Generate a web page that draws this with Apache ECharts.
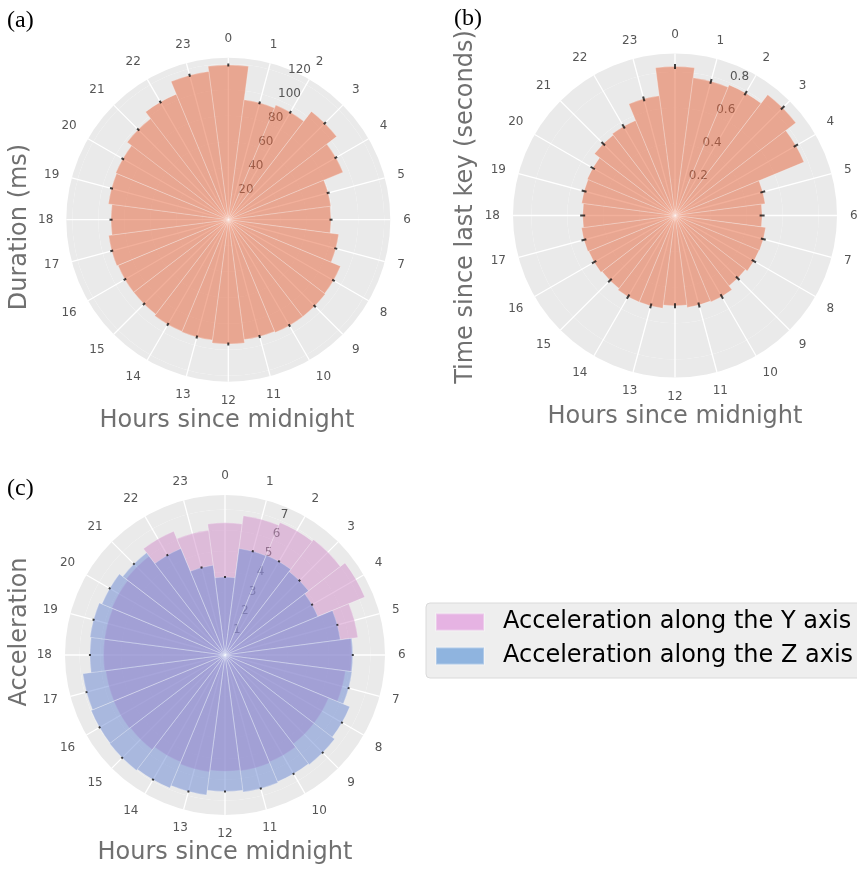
<!DOCTYPE html>
<html>
<head>
<meta charset="utf-8">
<script src="https://cdn.jsdelivr.net/npm/echarts@6/dist/echarts.min.js"></script>
<style>
  html, body { margin: 0; padding: 0; background: #fff; }
  #chart { width: 857px; height: 872px; }
</style>
</head>
<body>
<div id="chart"></div>
<script>
// hour of day, one bar per hour
const hours = ['0', '1', '2', '3', '4', '5', '6', '7', '8', '9', '10', '11',
    '12', '13', '14', '15', '16', '17', '18', '19', '20', '21', '22', '23'];

// (a) key press duration (ms)
const durationMs = [119, 93, 95.4, 105, 95.5, 79.5, 79, 85.6, 93.4, 94, 94, 93,
    95.6, 93.4, 93, 91.7, 91.8, 92.8, 90.2, 93, 93.7, 98, 104.5, 115];

// (b) time since last key (seconds)
const keyGap = [0.83, 0.773, 0.787, 0.848, 0.777, 0.506, 0.485, 0.509, 0.507, 0.494, 0.521, 0.516,
    0.503, 0.521, 0.522, 0.512, 0.52, 0.525, 0.514, 0.524, 0.529, 0.565, 0.573, 0.672];

// (c) acceleration
const accY = [6.36, 6.76, 6.9, 7.0, 7.28, 6.45, 6.1, 5.85, 5.4, 5.4, 5.58, 5.63,
    5.6, 5.68, 5.58, 5.75, 5.8, 5.79, 5.85, 5.85, 5.9, 6.0, 6.45, 6.05];
const accZ = [3.75, 5.17, 5.2, 5.07, 4.84, 5.6, 6.15, 6.16, 6.5, 6.65, 6.6, 6.65,
    6.57, 6.8, 6.93, 7.0, 6.97, 6.9, 6.5, 6.55, 6.41, 6.2, 5.55, 4.36];

const seriesNames = ['Acceleration along the Y axis', 'Acceleration along the Z axis'];

const GRAY = '#EAEAEA';
const FONT = 'DejaVu Sans';

// panel layout: center, radius, radial max and grid step
const panels = [
    { center: [228.3, 219.7], radius: 162, max: 124.6, interval: 20 },
    { center: [675, 215.5], radius: 162, max: 0.902, interval: 0.2 },
    { center: [225, 655], radius: 160, max: 7.7, interval: 1 }
];

let polar = [];
let angleAxis = [];
let radiusAxis = [];

panels.forEach((p, i) => {
    polar.push({ center: p.center, radius: p.radius });
    angleAxis.push({
        polarIndex: i,
        type: 'category',
        data: hours,
        startAngle: 90,
        clockwise: true,
        boundaryGap: false,
        axisLine: { show: false },
        axisTick: { show: false },
        axisLabel: { interval: 0, color: '#555', fontSize: 12, margin: 13, fontFamily: FONT },
        splitLine: { show: true, interval: 0, lineStyle: { color: '#fff', width: 1.3 } }
    });
    radiusAxis.push({
        polarIndex: i,
        type: 'value',
        min: 0,
        max: p.max,
        interval: p.interval,
        axisLine: { show: false },
        axisTick: { show: false },
        axisLabel: { show: false },
        splitLine: { show: true, lineStyle: { color: '#fff', width: 1.3 } },
        splitArea: { show: true, areaStyle: { color: [GRAY, GRAY] } }
    });
});

// second set of polars, only to place the radial labels at 22.5 degrees
panels.forEach((p, i) => {
    polar.push({ center: p.center, radius: p.radius });
    angleAxis.push({
        polarIndex: i + 3,
        type: 'value',
        min: 0,
        max: 360,
        startAngle: 67.5,
        show: false
    });
    radiusAxis.push({
        polarIndex: i + 3,
        type: 'value',
        min: 0,
        max: p.max,
        interval: p.interval,
        axisLine: { show: false },
        axisTick: { show: false },
        splitLine: { show: false },
        axisLabel: {
            color: '#555',
            fontSize: 12,
            fontFamily: FONT,
            margin: 0,
            align: 'left',
            verticalAlign: 'bottom',
            showMinLabel: false,
            showMaxLabel: false
        }
    });
});

// small black error marks at the bar ends
function marks(values, polarIndex, size) {
    return {
        type: 'scatter',
        coordinateSystem: 'polar',
        polarIndex: polarIndex,
        symbol: 'rect',
        symbolSize: size,
        silent: true,
        z: 4,
        itemStyle: { color: '#111' },
        data: values.map((v, i) => ({ value: [v, i], symbolRotate: -i * 15 }))
    };
}

const barBorder = { borderColor: 'rgba(255,255,255,0.3)', borderWidth: 0.8 };

let option = {
    animation: false,
    polar: polar,
    angleAxis: angleAxis,
    radiusAxis: radiusAxis,
    legend: {
        orient: 'vertical',
        left: 426,
        top: 603,
        icon: 'rect',
        itemWidth: 48,
        itemHeight: 17,
        itemGap: 6,
        padding: [5, 10, 8, 9],
        backgroundColor: '#EEEEEE',
        borderColor: '#DADADA',
        borderWidth: 1,
        borderRadius: 4,
        selectedMode: false,
        textStyle: { fontSize: 24, color: '#000', fontFamily: FONT, lineHeight: 28, padding: [0, 0, 0, 14] },
        data: [
            { name: seriesNames[0], itemStyle: { color: '#E6B3E3', opacity: 1 } },
            { name: seriesNames[1], itemStyle: { color: '#8FB4DF', opacity: 1 } }
        ]
    },
    graphic: [
        { type: 'text', x: 7, y: 21, style: { text: '(a)', font: '24px "Liberation Serif"', fill: '#000', verticalAlign: 'middle' } },
        { type: 'text', x: 454, y: 19, style: { text: '(b)', font: '24px "Liberation Serif"', fill: '#000', verticalAlign: 'middle' } },
        { type: 'text', x: 7, y: 489, style: { text: '(c)', font: '24px "Liberation Serif"', fill: '#000', verticalAlign: 'middle' } },
        { type: 'text', x: 20, y: 227, rotation: Math.PI / 2, style: { text: 'Duration (ms)', font: '24px "DejaVu Sans"', fill: '#707070', align: 'center', verticalAlign: 'middle' } },
        { type: 'text', x: 466, y: 207, rotation: Math.PI / 2, style: { text: 'Time since last key (seconds)', font: '24px "DejaVu Sans"', fill: '#707070', align: 'center', verticalAlign: 'middle' } },
        { type: 'text', x: 20, y: 632, rotation: Math.PI / 2, style: { text: 'Acceleration', font: '24px "DejaVu Sans"', fill: '#707070', align: 'center', verticalAlign: 'middle' } },
        { type: 'text', x: 227, y: 421, style: { text: 'Hours since midnight', font: '24px "DejaVu Sans"', fill: '#707070', align: 'center', verticalAlign: 'middle' } },
        { type: 'text', x: 675, y: 417, style: { text: 'Hours since midnight', font: '24px "DejaVu Sans"', fill: '#707070', align: 'center', verticalAlign: 'middle' } },
        { type: 'text', x: 225, y: 853, style: { text: 'Hours since midnight', font: '24px "DejaVu Sans"', fill: '#707070', align: 'center', verticalAlign: 'middle' } }
    ],
    series: [
        {
            type: 'bar',
            coordinateSystem: 'polar',
            polarIndex: 0,
            data: durationMs,
            barCategoryGap: '0%',
            itemStyle: { color: 'rgba(230,98,56,0.5)', ...barBorder }
        },
        marks(durationMs, 0, [2, 3]),
        {
            type: 'bar',
            coordinateSystem: 'polar',
            polarIndex: 1,
            data: keyGap,
            barCategoryGap: '0%',
            itemStyle: { color: 'rgba(230,98,56,0.5)', ...barBorder }
        },
        marks(keyGap, 1, [2, 5]),
        {
            name: seriesNames[0],
            type: 'bar',
            coordinateSystem: 'polar',
            polarIndex: 2,
            data: accY,
            barCategoryGap: '0%',
            barGap: '-100%',
            itemStyle: { color: 'rgba(208,140,200,0.5)', ...barBorder }
        },
        {
            name: seriesNames[1],
            type: 'bar',
            coordinateSystem: 'polar',
            polarIndex: 2,
            data: accZ,
            barCategoryGap: '0%',
            barGap: '-100%',
            itemStyle: { color: 'rgba(104,134,210,0.5)', ...barBorder }
        },
        marks(accZ, 2, [2, 2])
    ]
};

let chart = echarts.init(document.getElementById('chart'), null, { renderer: 'canvas' });
chart.setOption(option);
</script>
</body>
</html>
